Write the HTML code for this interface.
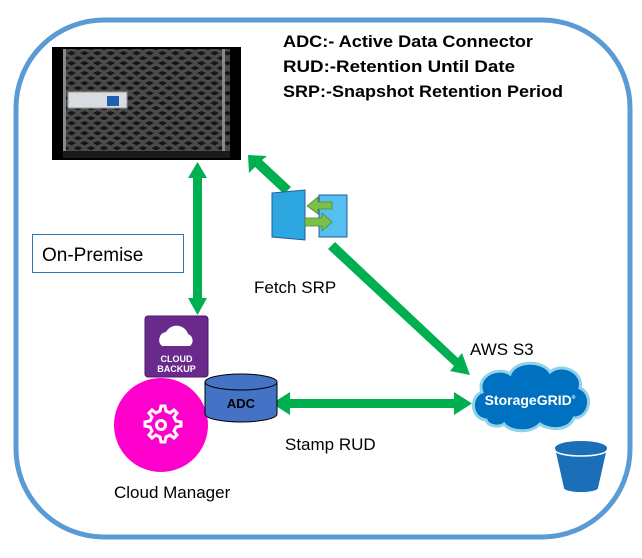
<!DOCTYPE html>
<html><head><meta charset="utf-8"><style>
html,body{margin:0;padding:0;background:#fff;}
svg{display:block;font-family:"Liberation Sans",sans-serif;}
</style></head><body>
<svg width="642" height="558" viewBox="0 0 642 558" xmlns="http://www.w3.org/2000/svg">
<defs>
<pattern id="mesh" width="13" height="10" patternUnits="userSpaceOnUse">
<rect width="13" height="10" fill="#4a4a4a"/>
<path d="M2 3 L6.5 1 L11 3 L6.5 5.5 Z" fill="#151515"/>
<path d="M-4.5 8 L0 6 L4.5 8 L0 10.5 Z M8.5 8 L13 6 L17.5 8 L13 10.5 Z" fill="#151515"/>
</pattern>
</defs>
<rect x="16" y="20" width="614" height="517" rx="88" fill="#fff" stroke="#5b9bd5" stroke-width="5"/>
<!-- server -->
<rect x="52" y="47" width="189" height="113" fill="#000"/>
<rect x="63" y="49" width="167" height="102" fill="url(#mesh)"/>
<rect x="63" y="49" width="3" height="102" fill="#888"/>
<rect x="222" y="49" width="3" height="102" fill="#888"/>
<rect x="63" y="151" width="167" height="7" fill="#1a1a1a"/>
<rect x="68" y="92" width="59" height="16" fill="#d8dbe0" stroke="#999"/>
<rect x="107" y="96" width="12" height="10" fill="#1f5fb0"/>
<!-- text -->
<g font-weight="bold" font-size="17" fill="#000">
<text x="283" y="47" textLength="250" lengthAdjust="spacingAndGlyphs">ADC:- Active Data Connector</text>
<text x="283" y="72" textLength="232" lengthAdjust="spacingAndGlyphs">RUD:-Retention Until Date</text>
<text x="283" y="97" textLength="280" lengthAdjust="spacingAndGlyphs">SRP:-Snapshot Retention Period</text>
</g>
<!-- on-premise -->
<rect x="32.5" y="234.5" width="151" height="38" fill="#fff" stroke="#2e75b6" stroke-width="1"/>
<text x="42" y="261" font-size="19" fill="#000">On-Premise</text>
<!-- arrows -->
<g fill="#00b050">
<rect x="193" y="178" width="9" height="120"/>
<polygon points="197.5,162 207,178 188,178"/>
<polygon points="197.5,315 207,298 188,298"/>
<polygon points="284,194 291,187 262,160 267,156 248,155 249,173 255,167"/>
<polygon points="328,249 335,242 458,358 462,353 470,375 450,371 454,366"/>
<rect x="290" y="399" width="164" height="9"/>
<polygon points="272,403.5 290,392 290,415"/>
<polygon points="472,403.5 454,392 454,415"/>
</g>
<!-- connector icon -->
<polygon points="272,193 305,190 305,240 272,237" fill="#2ea7e0" stroke="#1f5fa0" stroke-width="1"/>
<polygon points="319,195 347,195 347,237 319,237" fill="#56bff0" stroke="#1f5fa0" stroke-width="1"/>
<polygon points="332,202 318,202 318,197 307,206 318,214 318,209 332,209" fill="#7cc04a" stroke="#4a8a2a" stroke-width="0.8"/>
<polygon points="305,218 322,218 322,213 332,222 322,231 322,226 305,226" fill="#7cc04a" stroke="#4a8a2a" stroke-width="0.8"/>
<text x="254" y="293" font-size="17" fill="#000">Fetch SRP</text>
<!-- cloud backup -->
<rect x="145" y="316" width="63" height="61" rx="3" fill="#6a2a8c" stroke="#4a1a6a"/>
<path d="M162 346 a8 8 0 0 1 4-14 a12 12 0 0 1 22 2 a7 7 0 0 1 2 12 Z" fill="#fff"/>
<text x="176.5" y="362" font-size="9" fill="#fff" text-anchor="middle" font-weight="bold">CLOUD</text>
<text x="176.5" y="372" font-size="9" fill="#fff" text-anchor="middle" font-weight="bold">BACKUP</text>
<!-- cloud manager -->
<circle cx="161" cy="425" r="47" fill="#ff00cc"/>
<g fill="none" stroke="#fff" stroke-width="3">
<path d="M161 406 l4 0 l1 5 l4 2 l4-3 l3 3 l-3 4 l2 4 l5 1 l0 4 l-5 1 l-2 4 l3 4 l-3 3 l-4-3 l-4 2 l-1 5 l-4 0 l-1-5 l-4-2 l-4 3 l-3-3 l3-4 l-2-4 l-5-1 l0-4 l5-1 l2-4 l-3-4 l3-3 l4 3 l4-2 Z"/>
<circle cx="161" cy="425" r="4.5"/>
</g>
<text x="114" y="498" font-size="17" fill="#000">Cloud Manager</text>
<!-- ADC cylinder -->
<path d="M205 382 L205 414 A36 8 0 0 0 277 414 L277 382 Z" fill="#4472c4" stroke="#000" stroke-width="1"/>
<ellipse cx="241" cy="382" rx="36" ry="8" fill="#4472c4" stroke="#000" stroke-width="1"/>
<text x="241" y="408" font-size="13" font-weight="bold" text-anchor="middle" fill="#000">ADC</text>
<text x="285" y="450" font-size="17" fill="#000">Stamp RUD</text>
<text x="470" y="355" font-size="17" fill="#000">AWS S3</text>
<!-- storagegrid cloud -->
<path d="M486 420 C470 418 470 396 482 392 C476 376 498 366 510 374 C516 360 542 360 550 372 C562 362 584 372 580 388 C594 394 590 418 574 418 C568 432 548 430 540 424 C530 434 510 432 504 424 C498 428 488 426 486 420 Z" fill="#0070c0" stroke="#8fd3e8" stroke-width="3"/>
<text x="530" y="405" font-size="14" font-weight="bold" fill="#fff" text-anchor="middle">StorageGRID<tspan font-size="5" dy="-6">®</tspan></text>
<!-- bucket -->
<path d="M555 448 L564 488 A17 4 0 0 0 598 488 L607 448 Z" fill="#1a6fb8"/>
<ellipse cx="581" cy="448" rx="26" ry="7" fill="#1a6fb8"/>
<path d="M555 450 A26 6 0 0 0 607 450" fill="none" stroke="#fff" stroke-width="1.5"/>
</svg>
</body></html>
